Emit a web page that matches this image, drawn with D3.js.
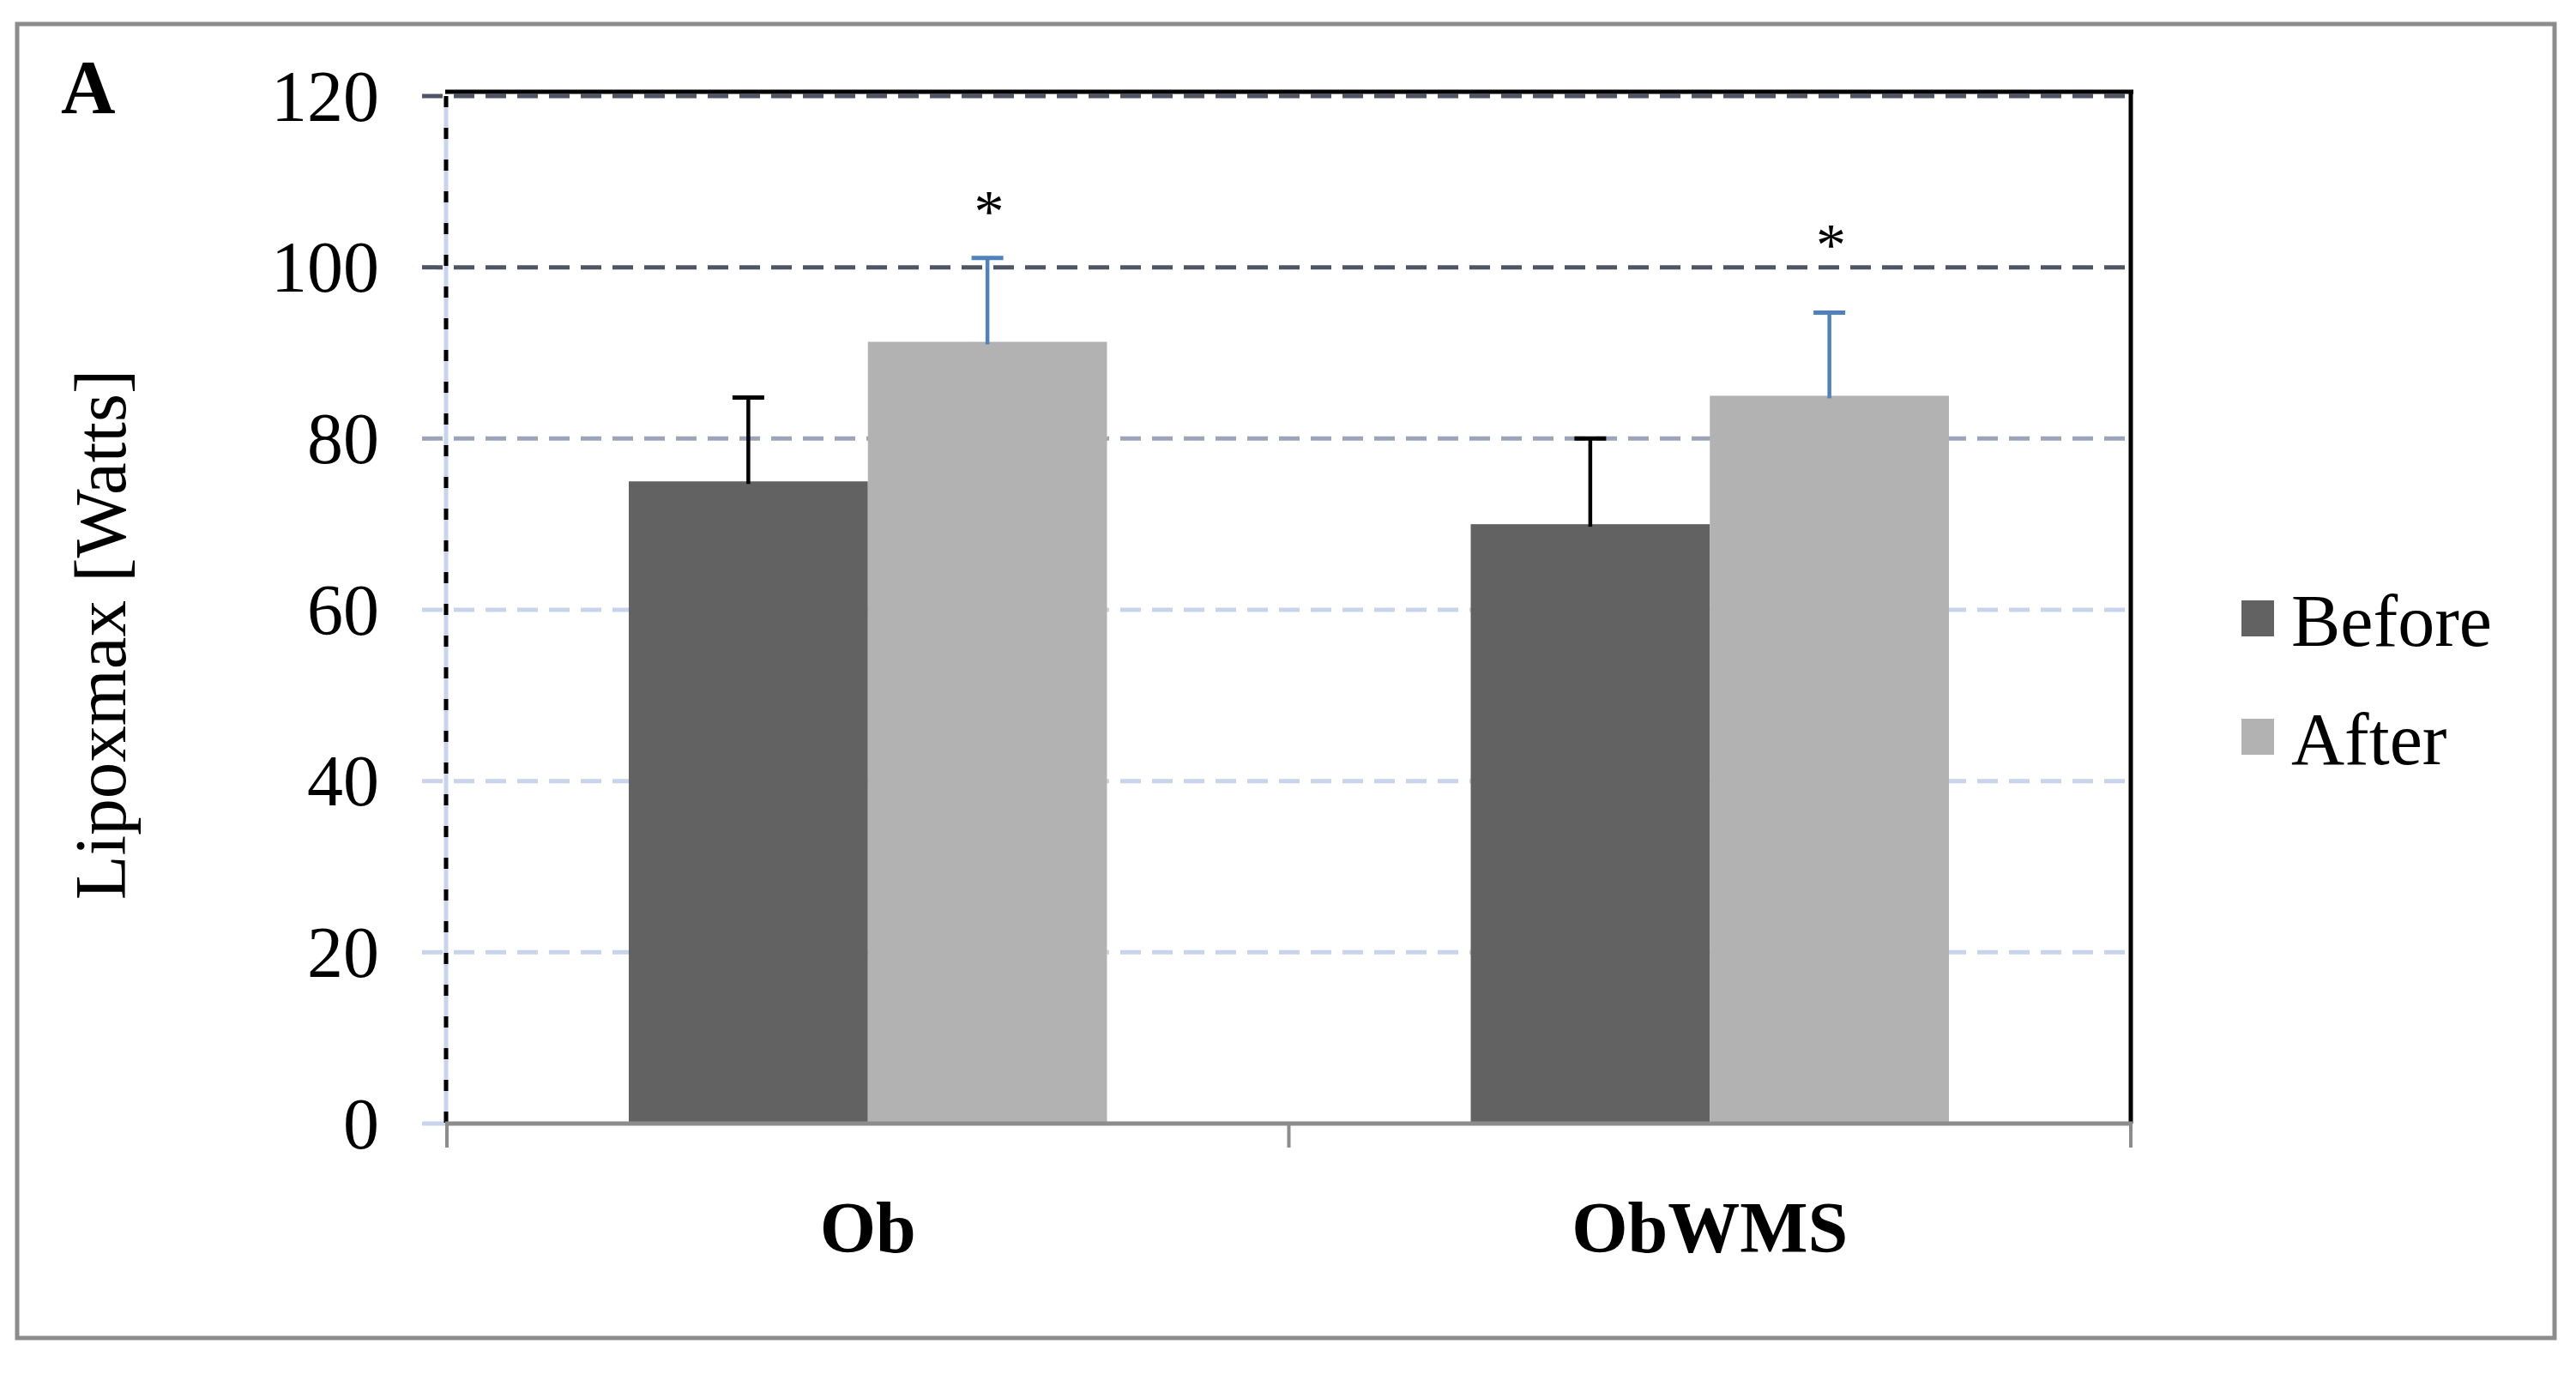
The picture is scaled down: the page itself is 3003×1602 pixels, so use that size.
<!DOCTYPE html>
<html>
<head>
<meta charset="utf-8">
<script src="https://cdn.jsdelivr.net/npm/d3@7"></script>
<style>
  html, body { margin: 0; padding: 0; background: #ffffff; }
  svg { display: block; }
  text { font-family: "Liberation Serif", "Times New Roman", "DejaVu Serif", serif; }
</style>
</head>
<body>
<svg id="chart" width="3003" height="1602"></svg>
<script>
// ---- data ----
const categories = ["Ob", "ObWMS"];
const series = ["Before", "After"];
const beforeValues = [75, 70];
const afterValues = [91.3, 85];
const beforeErrors = [9.8, 10];
const afterErrors = [9.8, 9.7];
const yTicks = [0, 20, 40, 60, 80, 100, 120];
const sigCategories = ["Ob", "ObWMS"];
const sigLevels = [107.7, 103.8];
const sigLabel = "*";
const yTitle = "Lipoxmax [Watts]";
const panelLabel = "A";

// ---- styles ----
const seriesColors = { Before: "#626262", After: "#b2b2b2" };
const errorColors = { Before: "#000000", After: "#4f81bd" };
const gridColor = v => v >= 100 ? "#4f5565" : (v === 80 ? "#9ba5ba" : "#c7d4ec");
const fontTick = 84, fontLegend = 86, fontCat = 84, fontTitle = 85;

const svg = d3.select("#chart");
svg.append("rect").attr("width", 3003).attr("height", 1602).attr("fill", "#fff");

// outer frame
svg.append("rect")
  .attr("x", 20).attr("y", 28).attr("width", 2958).attr("height", 1532)
  .attr("fill", "none").attr("stroke", "#8c8c8c").attr("stroke-width", 5);

const plotL = 521, plotR = 2484;
const x = d3.scaleBand().domain(categories).range([plotL, plotR]);
const y = d3.scaleLinear().domain([0, 120]).range([1310, 112]);
const groupW = x.bandwidth() * 0.568;
const x1 = d3.scaleBand().domain(series)
  .range([(x.bandwidth() - groupW) / 2, (x.bandwidth() + groupW) / 2]);

// gridlines (with tick stubs left of axis)
const grid = svg.append("g");
grid.selectAll("line").data(yTicks.filter(d => d > 0)).join("line")
  .attr("x1", plotL - 29).attr("x2", plotR - 2)
  .attr("y1", d => y(d)).attr("y2", d => y(d))
  .attr("stroke", d => gridColor(d)).attr("stroke-width", 5)
  .attr("stroke-dasharray", "24,13");
grid.append("line").attr("x1", plotL - 29).attr("x2", plotL)
  .attr("y1", y(0)).attr("y2", y(0)).attr("stroke", "#c7d4ec").attr("stroke-width", 5);

// top and right plot border
svg.append("line").attr("x1", plotL - 2).attr("x2", plotR + 3)
  .attr("y1", y(120) - 5).attr("y2", y(120) - 5)
  .attr("stroke", "#000").attr("stroke-width", 5);
svg.append("line").attr("x1", plotR).attr("x2", plotR)
  .attr("y1", y(120) - 7).attr("y2", y(0))
  .attr("stroke", "#000").attr("stroke-width", 5);

// left axis: light line with black dashes
svg.append("line").attr("x1", plotL - 1).attr("x2", plotL - 1)
  .attr("y1", y(120)).attr("y2", y(0))
  .attr("stroke", "#c7d4ec").attr("stroke-width", 5);
svg.append("line").attr("x1", plotL - 1).attr("x2", plotL - 1)
  .attr("y1", y(120)).attr("y2", y(0))
  .attr("stroke", "#000").attr("stroke-width", 5).attr("stroke-dasharray", "13,24");

// bars
const rows = categories.map((c, i) => ({
  cat: c,
  vals: [
    { s: "Before", v: beforeValues[i], e: beforeErrors[i] },
    { s: "After", v: afterValues[i], e: afterErrors[i] }
  ]
}));
const groups = svg.append("g").selectAll("g").data(rows).join("g")
  .attr("transform", d => `translate(${x(d.cat)},0)`);
groups.selectAll("rect").data(d => d.vals).join("rect")
  .attr("x", d => x1(d.s)).attr("width", x1.bandwidth())
  .attr("y", d => y(d.v)).attr("height", d => y(0) - y(d.v))
  .attr("fill", d => seriesColors[d.s]);

// error bars (upper only)
const capW = 37;
const eb = groups.selectAll("g.err").data(d => d.vals).join("g").attr("class", "err");
eb.append("line")
  .attr("x1", d => x1(d.s) + x1.bandwidth() / 2).attr("x2", d => x1(d.s) + x1.bandwidth() / 2)
  .attr("y1", d => y(d.v) + 3).attr("y2", d => y(d.v + d.e))
  .attr("stroke", d => errorColors[d.s]).attr("stroke-width", 4.5);
eb.append("line")
  .attr("x1", d => x1(d.s) + x1.bandwidth() / 2 - capW / 2)
  .attr("x2", d => x1(d.s) + x1.bandwidth() / 2 + capW / 2)
  .attr("y1", d => y(d.v + d.e)).attr("y2", d => y(d.v + d.e))
  .attr("stroke", d => errorColors[d.s]).attr("stroke-width", 5);

// significance marks
const sigFont = 70;
svg.append("g").selectAll("text").data(sigCategories.map((c, i) => ({ c, l: sigLevels[i] })))
  .join("text")
  .attr("x", d => x(d.c) + x1("After") + x1.bandwidth() / 2 + 2)
  .attr("y", d => y(d.l) + sigFont * 0.5)
  .attr("text-anchor", "middle").attr("font-size", sigFont).attr("fill", "#000")
  .text(sigLabel);

// x axis
svg.append("line").attr("x1", plotL - 2).attr("x2", plotR + 2)
  .attr("y1", y(0)).attr("y2", y(0))
  .attr("stroke", "#8c8c8c").attr("stroke-width", 5);
const xTickPos = [plotL, ...categories.map(c => x(c) + x.bandwidth())];
svg.append("g").selectAll("line").data(xTickPos).join("line")
  .attr("x1", d => d).attr("x2", d => d)
  .attr("y1", y(0)).attr("y2", y(0) + 28)
  .attr("stroke", "#8c8c8c").attr("stroke-width", 4);

// category labels
svg.append("g").selectAll("text").data(categories).join("text")
  .attr("x", d => x(d) + x.bandwidth() / 2).attr("y", 1460)
  .attr("text-anchor", "middle").attr("font-size", fontCat).attr("font-weight", "bold")
  .attr("fill", "#000").text(d => d);

// y tick labels
svg.append("g").selectAll("text").data(yTicks).join("text")
  .attr("x", 442).attr("y", d => y(d) + fontTick * 0.34)
  .attr("text-anchor", "end").attr("font-size", fontTick).attr("fill", "#000")
  .text(d => d);

// y title
svg.append("text")
  .attr("transform", "translate(146,740) rotate(-90)")
  .attr("text-anchor", "middle").attr("font-size", fontTitle).attr("fill", "#000")
  .text(yTitle);

// panel label
svg.append("text").attr("x", 71).attr("y", 131)
  .attr("font-size", 88).attr("font-weight", "bold").attr("fill", "#000")
  .text(panelLabel);

// legend
const leg = svg.append("g").selectAll("g").data(series).join("g")
  .attr("transform", (d, i) => `translate(2613,${700 + i * 138})`);
leg.append("rect").attr("width", 38).attr("height", 42).attr("fill", d => seriesColors[d]);
leg.append("text").attr("x", 58).attr("y", 53)
  .attr("font-size", fontLegend).attr("fill", "#000").text(d => d);
</script>
</body>
</html>
